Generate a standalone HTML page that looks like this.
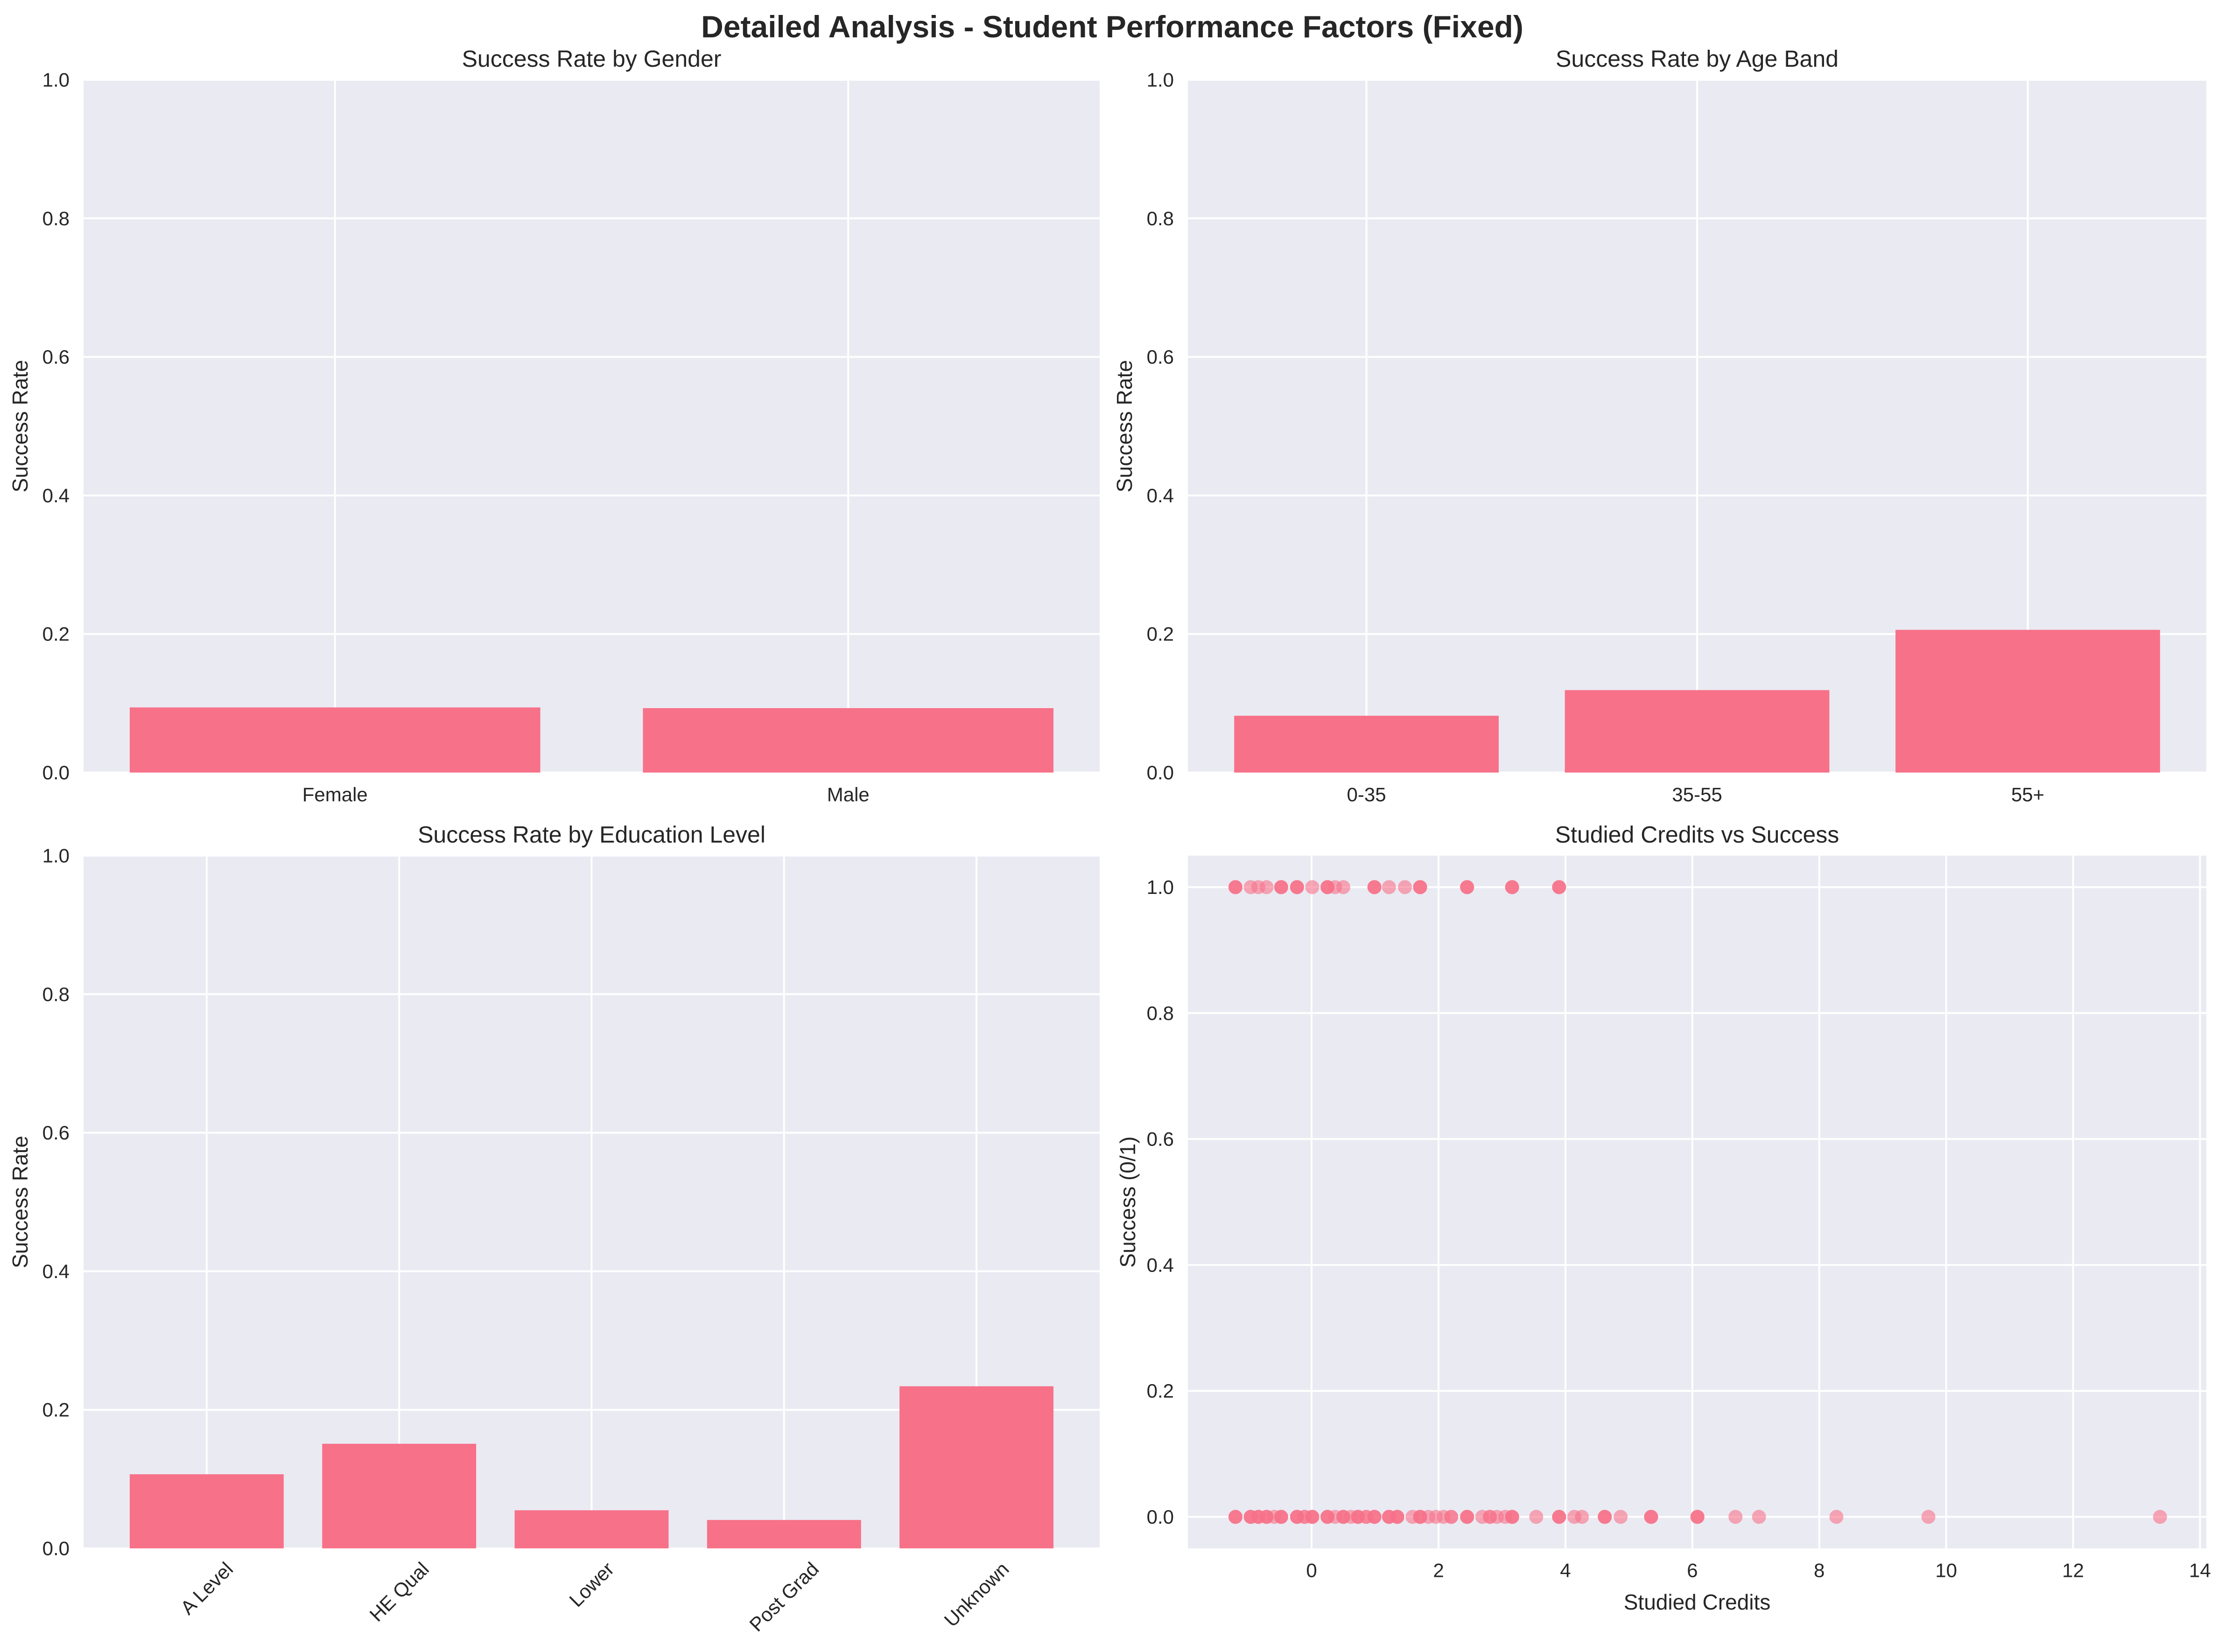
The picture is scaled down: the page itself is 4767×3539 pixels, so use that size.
<!DOCTYPE html>
<html><head><meta charset="utf-8"><style>
html,body{margin:0;padding:0;background:#fff}
svg{display:block;font-family:"Liberation Sans",Arial,sans-serif}
</style></head><body>
<svg id="fig" width="4767" height="3539" viewBox="0 0 4767 3539" xmlns="http://www.w3.org/2000/svg">
<text x="2383" y="80" text-anchor="middle" font-size="66" font-weight="bold" fill="#262626">Detailed Analysis - Student Performance Factors (Fixed)</text>
</svg>
<script>
const genderCats = ["Female","Male"];
const genderVals = [0.094, 0.093];
const ageCats = ["0-35","35-55","55+"];
const ageVals = [0.082, 0.119, 0.206];
const eduCats = ["A Level","HE Qual","Lower","Post Grad","Unknown"];
const eduVals = [0.107, 0.151, 0.055, 0.041, 0.234];
const rateTicks = [0, 0.2, 0.4, 0.6, 0.8, 1.0];
const scatterXTicks = [0, 2, 4, 6, 8, 10, 12, 14];
const scatterYTicks = [0, 0.2, 0.4, 0.6, 0.8, 1.0];
const succX = [-1.2,-0.96,-0.84,-0.71,-0.48,-0.23,0.01,0.25,0.37,0.5,0.99,1.22,1.47,1.71,2.45,3.16,3.9];
const succCount = [3,1,1,1,3,3,1,3,1,1,3,1,1,3,3,3,3];
const failX = [-1.2,-0.96,-0.84,-0.71,-0.59,-0.48,-0.23,-0.11,0.01,0.25,0.37,0.5,0.62,0.73,0.86,0.99,1.22,1.35,1.59,1.71,1.84,1.96,2.08,2.2,2.45,2.69,2.81,2.92,3.05,3.16,3.54,3.9,4.14,4.26,4.62,4.87,5.35,6.08,6.68,7.05,8.27,9.72,13.37];
const failCount = [3,3,3,3,1,3,3,2,3,3,1,3,1,3,2,3,3,3,1,3,1,1,1,2,3,1,2,1,1,3,1,3,1,1,3,1,3,3,1,1,1,1,1];

const NS="http://www.w3.org/2000/svg";
const svg=document.getElementById('fig');
function mk(tag,attrs,parent){const e=document.createElementNS(NS,tag);for(const k in attrs)e.setAttribute(k,attrs[k]);(parent||svg).appendChild(e);return e;}
const BG="#eaeaf2", BAR="#f77189", TXT="#262626";

function axesFrame(L,T,R,B,name){
  const g=mk('g',{});
  
  
  const r=mk('rect',{x:L,y:T,width:R-L,height:B-T,fill:BG},g);
  
  
  return g;
}
function ylabelText(g,x,cy,label){
  const t=mk('text',{x:x,y:cy,'text-anchor':'middle','font-size':46,fill:TXT,transform:`rotate(-90 ${x} ${cy})`,'dominant-baseline':'central'},g);
  t.textContent=label;
  
  
}
function titleText(g,x,y,label){
  const t=mk('text',{x:x,y:y,'text-anchor':'middle','font-size':50,fill:TXT},g);
  t.textContent=label;
  
  
}

function barChart(cats,vals,L,T,R,B,title,name,rotate){
  const g=axesFrame(L,T,R,B,name);
  const n=cats.length;
  const x0=-0.4-0.05*(n-0.2), x1=n-0.6+0.05*(n-0.2);
  const sx=v=>L+(v-x0)/(x1-x0)*(R-L);
  const sy=v=>B-(v-0)/(1-0)*(B-T);
  rateTicks.forEach(v=>{
    const l=mk('line',{x1:L,x2:R,y1:sy(v),y2:sy(v),stroke:'#fff','stroke-width':4},g);
    
    
    const t=mk('text',{x:L-30,y:sy(v),'text-anchor':'end','dominant-baseline':'central','font-size':42,fill:TXT},g);
    t.textContent=v.toFixed(1);
    
    
  });
  cats.forEach((c,i)=>{
    const l=mk('line',{x1:sx(i),x2:sx(i),y1:T,y2:B,stroke:'#fff','stroke-width':4},g);
    
    
  });
  cats.forEach((c,i)=>{
    const r=mk('rect',{x:sx(i-0.4),y:sy(vals[i]),width:sx(i+0.4)-sx(i-0.4),height:sy(0)-sy(vals[i]),fill:BAR},g);
    
    
    if(!rotate){
      const t=mk('text',{x:sx(i),y:B+47,'text-anchor':'middle','dominant-baseline':'central','font-size':42,fill:TXT},g);
      t.textContent=c;
      
      
    } else {
      const t=mk('text',{'text-anchor':'middle','dominant-baseline':'central','font-size':42,fill:TXT},g);
      t.textContent=c;
      
      
      const w=t.getComputedTextLength?t.getComputedTextLength():c.length*22;
      const half=(w*0.7071+42*0.7071)/2;
      t.setAttribute('transform',`translate(${sx(i)} ${B+22+half}) rotate(-45)`);
    }
  });
  titleText(g,(L+R)/2,T-28,title);
  ylabelText(g,L-136,(T+B)/2,'Success Rate');
}

barChart(genderCats,genderVals,179,171,2356,1655,'Success Rate by Gender','gender-chart',false);
barChart(ageCats,ageVals,2545,171,4727,1655,'Success Rate by Age Band','age-chart',false);
barChart(eduCats,eduVals,179,1833,2356,3317,'Success Rate by Education Level','education-chart',true);

(function(){
  const L=2545,T=1833,R=4727,B=3317;
  const g=axesFrame(L,T,R,B,'credits-scatter');
  const x0=-1.95,x1=14.1,y0=-0.05,y1=1.05;
  const sx=v=>L+(v-x0)/(x1-x0)*(R-L);
  const sy=v=>B-(v-y0)/(y1-y0)*(B-T);
  scatterYTicks.forEach(v=>{
    const l=mk('line',{x1:L,x2:R,y1:sy(v),y2:sy(v),stroke:'#fff','stroke-width':4},g);
    
    
    const t=mk('text',{x:L-30,y:sy(v),'text-anchor':'end','dominant-baseline':'central','font-size':42,fill:TXT},g);
    t.textContent=v.toFixed(1);
    
    
  });
  scatterXTicks.forEach(v=>{
    const l=mk('line',{x1:sx(v),x2:sx(v),y1:T,y2:B,stroke:'#fff','stroke-width':4},g);
    
    
    const t=mk('text',{x:sx(v),y:B+47,'text-anchor':'middle','dominant-baseline':'central','font-size':42,fill:TXT},g);
    t.textContent=String(v);
    
    
  });
  function pts(xs,counts,yv){
    xs.forEach((x,i)=>{
      for(let k=0;k<counts[i];k++){
        const c=mk('circle',{cx:sx(x),cy:sy(yv),r:15,fill:BAR,'fill-opacity':0.6},g);
        
        
      }
    });
  }
  pts(failX,failCount,0);
  pts(succX,succCount,1);
  titleText(g,(L+R)/2,T-28,'Studied Credits vs Success');
  ylabelText(g,L-129,(T+B)/2,'Success (0/1)');
  const xl=mk('text',{x:(L+R)/2,y:B+115,'text-anchor':'middle','dominant-baseline':'central','font-size':46,fill:TXT},g);
  xl.textContent='Studied Credits';
  
  
})();
</script>
</body></html>
